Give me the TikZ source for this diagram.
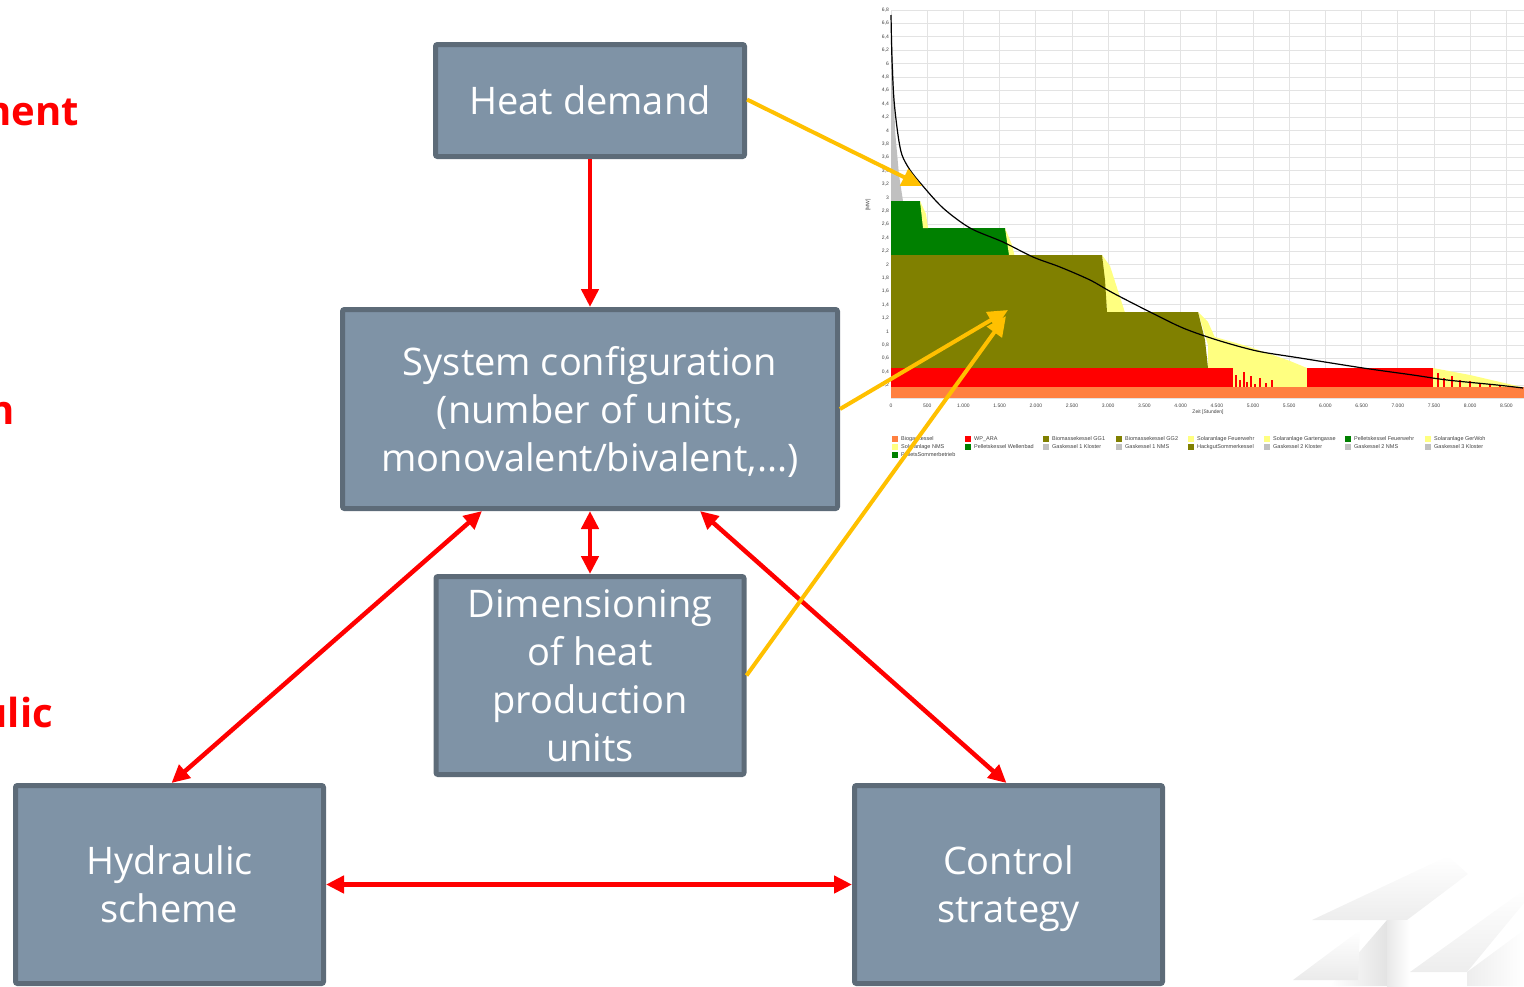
\documentclass[tikz,border=0pt]{standalone}
\usepackage{fontspec}
\setmainfont{Open Sans}
\newfontfamily\chartfont{Liberation Sans}
\usetikzlibrary{positioning, arrows.meta}
\definecolor{boxfill}{HTML}{7F93A6}
\definecolor{boxline}{HTML}{5D6B78}
\definecolor{linkred}{HTML}{FF0000}
\definecolor{linkgold}{HTML}{FFC000}
\definecolor{biogas}{HTML}{FF8040}
\definecolor{biomass}{HTML}{808000}
\definecolor{pellet}{HTML}{008000}
\definecolor{solar}{HTML}{FFFF80}
\definecolor{gaskessel}{HTML}{C0C0C0}

\begin{document}
\begin{tikzpicture}[x=1pt, y=-1pt,
  box/.style={draw=boxline, fill=boxfill, line width=5pt, rounded corners=2pt,
    text=white, align=center, text depth=0pt, font=\fontsize{38}{48}\selectfont},
  redlink/.style={draw=linkred, line width=4.5pt},
  redhead/.tip={Triangle[length=18pt, width=17pt]},
  goldlink/.style={draw=linkgold, line width=4pt, -{Triangle[length=20pt, width=18pt]}},
  gridline/.style={draw=gray!22, line width=1pt},
  ticklabel/.style={font=\chartfont\fontsize{5}{6}\selectfont, text=gray!50!black, inner sep=1pt},
  legendtext/.style={font=\chartfont\fontsize{5.5}{6}\selectfont, text=gray!50!black, anchor=west, inner sep=0pt},
  sidelabel/.style={font=\fontsize{40}{48}\selectfont\bfseries, text=linkred, anchor=base east, inner sep=0pt}]
  \useasboundingbox (0,0) rectangle (1524,986);

  % cut-off labels at the left edge
  \node[sidelabel] (sidetop) at (79,125) {Assessment};
  \node[sidelabel] (sidemid) at (15,424) {Design};
  \node[sidelabel] (sidelow) at (53,727) {Hydraulic};

  % watermark
  \shade[top color=white, bottom color=gray!14] (1312,920) -- (1407,920) -- (1468,874) -- (1448,856) -- cycle;
  \shade[left color=white, right color=gray!22] (1330,986) -- (1387,920) -- (1387,986) -- cycle;
  \shade[left color=gray!18, right color=white] (1387,920) -- (1410,920) -- (1410,986) -- (1387,986) -- cycle;
  \shade[top color=white, bottom color=gray!16] (1293,980) -- (1358,980) -- (1360,930) -- cycle;
  \shade[top color=white, bottom color=gray!14] (1410,972) -- (1467,972) -- (1524,903) -- (1524,890) -- cycle;
  \shade[left color=gray!14, right color=white] (1467,972) -- (1524,930) -- (1524,986) -- (1467,986) -- cycle;

  % boxes
  \node[box, minimum width=309pt, minimum height=112pt] (heat) at (590,100.5) {Heat demand};
  \node[box, minimum width=495pt, minimum height=199pt, below=148pt of heat] (sysconf)
    {System configuration\\(number of units,\\monovalent/bivalent,...)};
  \node[box, minimum width=308pt, minimum height=198pt, below=63pt of sysconf] (dimens)
    {Dimensioning\\of heat\\production\\units};
  \node[box, minimum width=308pt, minimum height=198pt] (hydraulic) at (169.5,884.5) {Hydraulic\\scheme};
  \node[box, minimum width=308pt, minimum height=198pt] (control) at (1008.5,884.5) {Control\\strategy};

  % load duration chart
  \foreach \k in {0,...,28} \draw[gridline] (891,{10+\k*13.4}) -- (1524,{10+\k*13.4});
  \draw[gridline] (891,398) -- (1524,398);
  \foreach \k in {0,...,17} \draw[gridline] ({891+\k*36.2},10) -- ({891+\k*36.2},398);
  \foreach \lab [count=\i from 0] in {{6,8},{6,6},{6,4},{6,2},6,{4,8},{4,6},{4,4},{4,2},4,{3,8},{3,6},{3,4},{3,2},3,
      {2,8},{2,6},{2,4},{2,2},2,{1,8},{1,6},{1,4},{1,2},1,{0,8},{0,6},{0,4},{0,2}}
    \node[ticklabel, anchor=east] at (890,{10+\i*13.4}) {\lab};
  \foreach \lab [count=\i from 0] in {0,500,1.000,1.500,2.000,2.500,3.000,3.500,4.000,4.500,5.000,5.500,6.000,6.500,7.000,7.500,8.000,8.500}
    \node[ticklabel] at ({891+\i*36.2},406) {\lab};
  \node[ticklabel] (xtitle) at (1208,412.5) {Zeit [Stunden]};
  \node[ticklabel, rotate=90] (ytitle) at (868,205) {[MW]};

  \fill[gaskessel] (891,15) -- (893,60) -- (895,130) -- (899,175) -- (903,201) -- (891,201) -- cycle;
  \fill[pellet] (891,201) -- (920,201) -- (924,224) -- (927,228) -- (1005,228) -- (1009,245) -- (1011,255) -- (891,255) -- cycle;
  \fill[solar] (920,201) -- (926,214) -- (928,228) -- (923,228) -- cycle;
  \fill[solar] (1005,228) -- (1012,245) -- (1016,262) -- (1009,255) -- cycle;
  \fill[solar] (1102,255) -- (1110,266) -- (1128,322) -- (1107,312) -- cycle;
  \fill[solar] (1198,312) -- (1208,322) -- (1216,340) -- (1208,345) -- cycle;
  \fill[biomass] (891,255) -- (1102,255) -- (1105,280) -- (1107,312) -- (1198,312) -- (1205,340) -- (1208,368) -- (891,368) -- cycle;
  \fill[solar] (1208,368) -- (1208,335) -- (1250,347) -- (1290,361) -- (1307,368) -- (1307,387) -- (1208,387) -- cycle;
  \fill[solar] (1433,368) -- (1470,375) -- (1500,382) -- (1522,387) -- (1433,387) -- cycle;
  \fill[linkred] (891,368) rectangle (1233,387);
  \fill[linkred] (1307,368) rectangle (1433,387);
  \foreach \sx/\sy in {1236/375,1240/380,1244/372,1247/382,1251/376,1255/384,1260/378,1266/383,1272/380}
    \draw[linkred, line width=1.4pt] (\sx,387) -- (\sx,\sy);
  \foreach \sx/\sy in {1438/373,1444/378,1452/376,1460/380,1470/381,1480/383,1490/384,1500/385}
    \draw[linkred, line width=1.2pt] (\sx,387) -- (\sx,\sy);
  \fill[biogas] (891,387) rectangle (1524,398);
  \draw[black, line width=1.2pt] plot[smooth, tension=0.5] coordinates {(891,15) (892,60) (894,100) (898,135)
    (902,155) (910,170) (922,185) (943,208) (970,228) (1003,242) (1033,257) (1060,267) (1090,280)
    (1113,293) (1150,312) (1183,328) (1217,340) (1257,351) (1300,358) (1363,368) (1413,375)
    (1447,380) (1497,385) (1523,388)};

  % legend
  \foreach \lx/\ly/\lc/\lt in {892/439/biogas/Biogaskessel, 965/439/linkred/WP\_ARA,
      1043/439/biomass/Biomassekessel GG1, 1116/439/biomass/Biomassekessel GG2,
      1188/439/solar/Solaranlage Feuerwehr, 1264/439/solar/Solaranlage Gartengasse,
      1345/439/pellet/Pelletskessel Feuerwehr, 1425/439/solar/Solaranlage GerWoh,
      892/447/solar/Solaranlage NMS, 965/447/pellet/Pelletskessel Wellenbad,
      1043/447/gaskessel/Gaskessel 1 Kloster, 1116/447/gaskessel/Gaskessel 1 NMS,
      1188/447/biomass/HackgutSommerkessel, 1264/447/gaskessel/Gaskessel 2 Kloster,
      1345/447/gaskessel/Gaskessel 2 NMS, 1425/447/gaskessel/Gaskessel 3 Kloster,
      892/455/pellet/PelletsSommerbetrieb}{
    \fill[\lc] (\lx,\ly-3) rectangle +(6,6);
    \node[legendtext] at (\lx+9,\ly) {\lt};
  }

  % end points in the chart
  \coordinate (peakpt) at (922,186);
  \coordinate (basept) at (1008,310);
  \coordinate (unitpt) at (1006,316);

  % connectors
  \draw[redlink, -redhead] (heat) -- (sysconf);
  \draw[redlink, redhead-redhead] (sysconf) -- (dimens);
  \draw[redlink, redhead-redhead] ([xshift=-108pt]sysconf.south) -- ([xshift=2pt]hydraulic.north);
  \draw[redlink, redhead-redhead] ([xshift=110pt]sysconf.south) -- ([xshift=-2pt]control.north);
  \draw[redlink, redhead-redhead] (hydraulic) -- (control);

  \draw[goldlink] ([yshift=1pt]heat.east) -- (peakpt);
  \draw[goldlink] (sysconf.east) -- (basept);
  \draw[goldlink] (dimens.east) -- (unitpt);
\end{tikzpicture}
\end{document}
